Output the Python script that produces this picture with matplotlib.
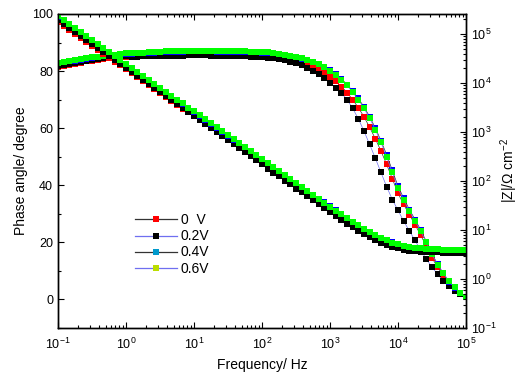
#!/usr/bin/env python3
"""Bode plot (phase angle + |Z|) for four bias potentials."""
import matplotlib
matplotlib.use("Agg")
import matplotlib.pyplot as plt  # noqa: E402
from matplotlib.lines import Line2D  # noqa: E402
from matplotlib.ticker import LogLocator, MultipleLocator, NullFormatter  # noqa: E402

# ---- data --------------------------------------------------------------
FREQ = [
    0.1, 0.121, 0.147, 0.178, 0.215, 0.261, 0.316, 0.383, 0.464, 0.562, 0.681, 0.825,
    1, 1.21, 1.47, 1.78, 2.15, 2.61, 3.16, 3.83, 4.64, 5.62, 6.81, 8.25,
    10, 12.1, 14.7, 17.8, 21.5, 26.1, 31.6, 38.3, 46.4, 56.2, 68.1, 82.5,
    100, 121, 147, 178, 215, 261, 316, 383, 464, 562, 681, 825,
    1000, 1210, 1470, 1780, 2150, 2610, 3160, 3830, 4640, 5620, 6810, 8250,
    10000, 12100, 14700, 17800, 21500, 26100, 31600, 38300, 46400, 56200, 68100, 82500,
    100000,
]

LABELS = ["0  V", "0.2V", "0.4V", "0.6V"]

PHASE_0V = [
    81.4, 81.8, 82.2, 82.6, 83.0, 83.4, 83.7, 84.0, 84.3, 84.6, 84.8, 85.0,
    85.1, 85.2, 85.3, 85.4, 85.5, 85.5, 85.6, 85.6, 85.7, 85.7, 85.7, 85.8,
    85.8, 85.8, 85.8, 85.8, 85.7, 85.7, 85.7, 85.6, 85.6, 85.5, 85.5, 85.4,
    85.3, 85.1, 84.9, 84.6, 84.2, 83.8, 83.3, 82.7, 82.0, 81.2, 80.3, 79.2,
    78.0, 76.5, 74.6, 72.5, 70.0, 67.2, 64.0, 60.3, 56.3, 52.0, 47.3, 42.3,
    37.2, 33.3, 29.7, 26.2, 22.6, 18.6, 14.6, 11.2, 8.3, 5.7, 3.6, 1.9,
    0.7,
]
PHASE_02V = [
    81.7, 82.1, 82.5, 82.9, 83.3, 83.6, 83.9, 84.2, 84.5, 84.7, 84.9, 85.1,
    85.2, 85.0, 85.1, 85.2, 85.2, 85.3, 85.3, 85.4, 85.4, 85.4, 85.4, 85.5,
    85.5, 85.5, 85.5, 85.4, 85.4, 85.4, 85.3, 85.3, 85.2, 85.2, 85.1, 85.0,
    84.9, 84.7, 84.5, 84.2, 83.8, 83.3, 82.8, 82.1, 81.2, 80.2, 79.0, 77.6,
    76.0, 74.2, 72.3, 70.0, 67.0, 63.3, 59.0, 54.3, 49.5, 44.5, 39.5, 35.0,
    31.2, 27.5, 24.0, 20.7, 17.2, 14.2, 11.3, 8.8, 6.5, 4.6, 3.0, 1.8,
    0.8,
]
PHASE_04V = [
    82.8, 83.1, 83.4, 83.7, 84.0, 84.3, 84.6, 84.9, 85.2, 85.4, 85.6, 85.8,
    86.0, 86.1, 86.2, 86.3, 86.4, 86.5, 86.6, 86.7, 86.7, 86.8, 86.8, 86.9,
    86.9, 86.9, 86.9, 86.9, 86.8, 86.8, 86.8, 86.7, 86.7, 86.7, 86.6, 86.6,
    86.5, 86.4, 86.2, 85.9, 85.6, 85.3, 84.9, 84.4, 83.9, 83.2, 82.5, 81.6,
    80.4, 79.0, 77.3, 75.3, 73.0, 70.4, 67.5, 64.0, 60.1, 55.6, 50.7, 45.2,
    39.7, 35.5, 31.5, 28.0, 24.4, 20.3, 16.0, 12.3, 9.1, 6.2, 4.0, 2.2,
    0.9,
]
PHASE_06V = [
    83.0, 83.3, 83.6, 83.9, 84.2, 84.5, 84.8, 85.1, 85.4, 85.6, 85.8, 86.0,
    86.2, 86.3, 86.4, 86.5, 86.6, 86.7, 86.8, 86.9, 86.9, 87.0, 87.0, 87.1,
    87.1, 87.1, 87.1, 87.1, 87.0, 87.0, 87.0, 86.9, 86.9, 86.9, 86.8, 86.8,
    86.7, 86.6, 86.4, 86.1, 85.8, 85.4, 85.0, 84.5, 83.9, 83.2, 82.4, 81.4,
    80.2, 78.8, 77.0, 75.0, 72.6, 70.0, 67.0, 63.5, 59.5, 55.0, 50.0, 44.5,
    39.0, 35.0, 31.0, 27.5, 24.0, 20.0, 15.8, 12.2, 9.2, 6.4, 4.2, 2.4,
    1.0,
]

Z_0V = [
    1.74e5, 1.45e5, 1.20e5, 1.00e5, 8.32e4, 6.92e4, 5.75e4, 4.79e4, 3.98e4, 3.31e4, 2.75e4, 2.29e4,
    1.91e4, 1.58e4, 1.32e4, 1.10e4, 9.12e3, 7.59e3, 6.31e3, 5.25e3, 4.37e3, 3.63e3, 3.02e3, 2.51e3,
    2.09e3, 1.74e3, 1.45e3, 1.20e3, 1.00e3, 832, 692, 575, 479, 398, 331, 275,
    229, 191, 158, 132, 110, 91.6, 76.3, 63.5, 52.9, 44.1, 36.7, 30.6,
    25.6, 21.4, 18.0, 15.1, 12.7, 10.8, 9.23, 7.97, 6.94, 6.14, 5.50, 5.02,
    4.64, 4.36, 4.16, 4.00, 3.90, 3.82, 3.77, 3.73, 3.70, 3.68, 3.66, 3.65,
    3.64,
]
Z_02V = [
    1.95e5, 1.61e5, 1.34e5, 1.11e5, 9.16e4, 7.59e4, 6.28e4, 5.20e4, 4.31e4, 3.56e4, 2.95e4, 2.44e4,
    2.02e4, 1.67e4, 1.39e4, 1.15e4, 9.51e3, 7.87e3, 6.52e3, 5.40e3, 4.47e3, 3.70e3, 3.06e3, 2.54e3,
    2.10e3, 1.74e3, 1.44e3, 1.19e3, 986, 817, 676, 560, 463, 384, 318, 263,
    218, 180, 149, 124, 102, 85.0, 70.4, 58.4, 48.4, 40.1, 33.3, 27.7,
    23.0, 19.1, 16.0, 13.4, 11.3, 9.56, 8.16, 7.04, 6.15, 5.46, 4.92, 4.51,
    4.20, 3.98, 3.82, 3.70, 3.61, 3.56, 3.51, 3.48, 3.46, 3.45, 3.44, 3.43,
    3.43,
]
Z_04V = [
    2.28e5, 1.90e5, 1.57e5, 1.31e5, 1.08e5, 8.98e4, 7.46e4, 6.18e4, 5.13e4, 4.26e4, 3.53e4, 2.93e4,
    2.43e4, 2.02e4, 1.68e4, 1.39e4, 1.15e4, 9.56e3, 7.94e3, 6.58e3, 5.46e3, 4.53e3, 3.76e3, 3.12e3,
    2.59e3, 2.15e3, 1.78e3, 1.48e3, 1.23e3, 1.02e3, 848, 703, 584, 485, 403, 334,
    278, 230, 191, 159, 132, 110, 91.5, 76.0, 63.2, 52.6, 43.8, 36.5,
    30.4, 25.4, 21.3, 17.8, 14.9, 12.6, 10.7, 9.18, 7.96, 6.97, 6.20, 5.60,
    5.14, 4.79, 4.54, 4.36, 4.23, 4.14, 4.07, 4.02, 3.99, 3.96, 3.95, 3.94,
    3.93,
]
Z_06V = [
    2.34e5, 1.95e5, 1.61e5, 1.34e5, 1.11e5, 9.20e4, 7.64e4, 6.32e4, 5.25e4, 4.36e4, 3.61e4, 2.99e4,
    2.48e4, 2.06e4, 1.71e4, 1.42e4, 1.17e4, 9.75e3, 8.09e3, 6.70e3, 5.56e3, 4.61e3, 3.83e3, 3.17e3,
    2.63e3, 2.18e3, 1.81e3, 1.50e3, 1.24e3, 1.03e3, 857, 710, 589, 489, 406, 336,
    279, 231, 192, 159, 132, 110, 91.1, 75.5, 62.7, 52.1, 43.3, 36.0,
    29.9, 25.0, 20.9, 17.4, 14.6, 12.4, 10.5, 9.02, 7.83, 6.87, 6.12, 5.55,
    5.11, 4.77, 4.53, 4.36, 4.23, 4.14, 4.07, 4.03, 4.00, 3.97, 3.96, 3.95,
    3.94,
]

PHASES = [PHASE_0V, PHASE_02V, PHASE_04V, PHASE_06V]
MODULI = [Z_0V, Z_02V, Z_04V, Z_06V]

# ---- style ---------------------------------------------------------------
MARKER_COLOR = ["#ff0000", "#000000", "#0000ff", "#00ff00"]
LINE_COLOR = ["#333333", "#6f6ff0", "#333333", "#6f6ff0"]
# the legend swatches in the original use slightly different fills
LEGEND_MARKER = ["#ff0000", "#000000", "#0099cc", "#bbdd00"]

FONT = "Liberation Sans"


def main():
    plt.rcParams.update({
        "font.family": FONT,
        "font.size": 9,
        "mathtext.fontset": "custom",
        "mathtext.rm": FONT,
        "mathtext.it": FONT,
        "axes.linewidth": 1.0,
    })

    fig = plt.figure(figsize=(5.2, 3.8), dpi=100)
    ax = fig.add_axes([58 / 520, 1 - 328 / 380, 408 / 520, 314 / 380])
    ax2 = ax.twinx()

    for ph, zz, mc, lc in zip(PHASES, MODULI, MARKER_COLOR, LINE_COLOR):
        kw = dict(color=lc, linewidth=0.5, marker="s", markersize=4.6,
                  markerfacecolor=mc, markeredgewidth=0)
        ax.plot(FREQ, ph, **kw)
        ax2.plot(FREQ, zz, **kw)

    ax.set_xscale("log")
    ax.set_xlim(0.1, 1e5)
    ax.set_ylim(-10, 100)
    ax.yaxis.set_major_locator(MultipleLocator(20))
    ax.yaxis.set_minor_locator(MultipleLocator(10))
    ax.xaxis.set_major_locator(LogLocator(base=10, numticks=20))
    ax.xaxis.set_minor_locator(LogLocator(base=10, subs=range(2, 10), numticks=20))
    ax.xaxis.set_minor_formatter(NullFormatter())

    ax2.set_yscale("log")
    ax2.set_ylim(0.1, 10 ** 5.41)
    ax2.yaxis.set_major_locator(LogLocator(base=10, numticks=20))
    ax2.yaxis.set_minor_locator(LogLocator(base=10, subs=range(2, 10), numticks=20))
    ax2.yaxis.set_minor_formatter(NullFormatter())

    ax.tick_params(which="both", direction="in", top=True, right=False,
                   labelsize=9, width=0.8)
    ax.tick_params(which="major", length=4.5)
    ax.tick_params(which="minor", length=2.5)
    ax.tick_params(axis="x", which="major", pad=6)
    ax2.tick_params(which="both", direction="in", labelsize=9, width=0.8)
    ax2.tick_params(which="major", length=4.5)
    ax2.tick_params(which="minor", length=2.5)

    ax.set_xlabel("Frequency/ Hz", fontsize=10, labelpad=5)
    ax.set_ylabel("Phase angle/ degree", fontsize=10, labelpad=3)
    ax2.set_ylabel(r"|Z|/Ω cm$^{-2}$", fontsize=10, labelpad=1)

    handles = [
        Line2D([], [], color=lc, linewidth=0.9, marker="s", markersize=4.6,
               markerfacecolor=lm, markeredgewidth=0)
        for lc, lm in zip(LINE_COLOR, LEGEND_MARKER)
    ]
    ax2.legend(handles, LABELS, loc="upper left", bbox_to_anchor=(0.175, 0.383),
               frameon=False, fontsize=10, handlelength=3.0, handletextpad=0.3,
               labelspacing=0.15, borderaxespad=0)

    fig.savefig("out.png", dpi=100)
    plt.close(fig)


if __name__ == "__main__":
    main()
